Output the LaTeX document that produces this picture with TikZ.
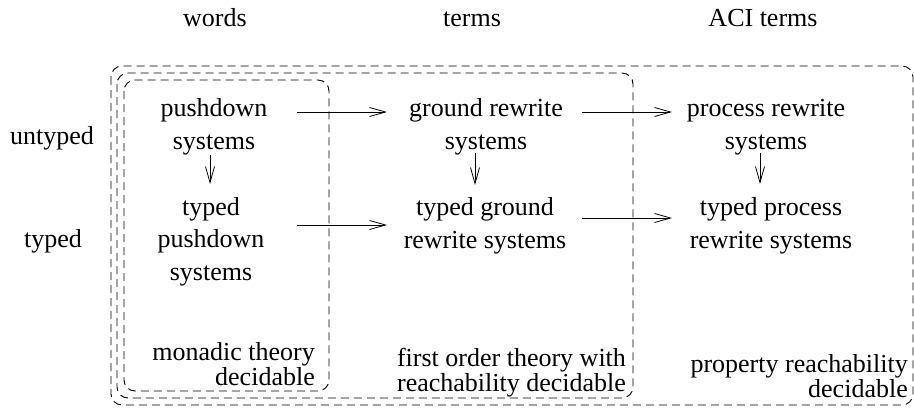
\documentclass[tikz,border=0pt]{standalone}
\usepackage{fontspec}
\setmainfont{Liberation Serif}
\usetikzlibrary{arrows.meta,calc}
\begin{document}
\begin{tikzpicture}[x=1pt,y=-1pt,
  lbl/.style={inner sep=0pt, align=center, font=\fontsize{26}{32.5}\selectfont},
  note/.style={inner sep=0pt, font=\fontsize{26}{24.5}\selectfont},
  zone/.style={draw, line width=0.9pt, dash pattern=on 8pt off 5pt, rounded corners=11pt},
  arr/.style={draw, line width=0.8pt, -{Straight Barb[length=16pt,width=9pt,line width=0.8pt]}}]
\useasboundingbox (0,0) rectangle (914,408);

% decidability regions
\draw[zone] (111,66) rectangle (913,405);
\draw[zone] (117,73) rectangle (633,398);
\draw[zone] (124,80) rectangle (329,391);

% column and row headings
\node[lbl, anchor=base] (hw) at (215,26) {words};
\node[lbl, anchor=base] (ht) at (472,26) {terms};
\node[lbl, anchor=base] (ha) at (763,26) {ACI terms};
\node[lbl, anchor=base] (hu) at (52,144) {untyped};
\node[lbl, anchor=base] (hy) at (53,247) {typed};

% systems
\node[lbl, anchor=base] (pd)  at (214,149) {pushdown\\systems};
\node[lbl, anchor=base] (tpd) at (211,280) {typed\\pushdown\\systems};
\node[lbl, anchor=base] (gr)  at (486,149) {ground rewrite\\systems};
\node[lbl, anchor=base] (tgr) at (485,248) {typed ground\\rewrite systems};
\node[lbl, anchor=base] (pr)  at (766,149) {process rewrite\\systems};
\node[lbl, anchor=base] (tpr) at (771,248) {typed process\\rewrite systems};

% decidability notes
\node[note, align=right, anchor=base east] (mon) at (315,385) {monadic theory\\decidable};
\node[note, align=center, anchor=base] (fo) at (511.5,391) {first order theory with\\reachability decidable};
\node[note, align=right, anchor=base east] (prop) at (908,397) {property reachability\\decidable};

% inclusions
\draw[arr] ($(pd.base)+(83,-37)$) -- ($(gr.base)+(-99,-37)$);
\draw[arr] ($(tpd.base)+(86,-55)$) -- ($(tgr.base)+(-98,-23)$);
\draw[arr] ($(gr.base)+(96,-37)$) -- ($(pr.base)+(-94,-37)$);
\draw[arr] ($(tgr.base)+(97,-30)$) -- ($(tpr.base)+(-99,-30)$);
\draw[arr] ($(pd.base)+(-4,6)$) -- ($(tpd.base)+(-1,-96)$);
\draw[arr] ($(gr.base)+(-11,4)$) -- ($(tgr.base)+(-10,-63)$);
\draw[arr] ($(pr.base)+(-6,4)$) -- ($(tpr.base)+(-11,-64)$);
\end{tikzpicture}
\end{document}
